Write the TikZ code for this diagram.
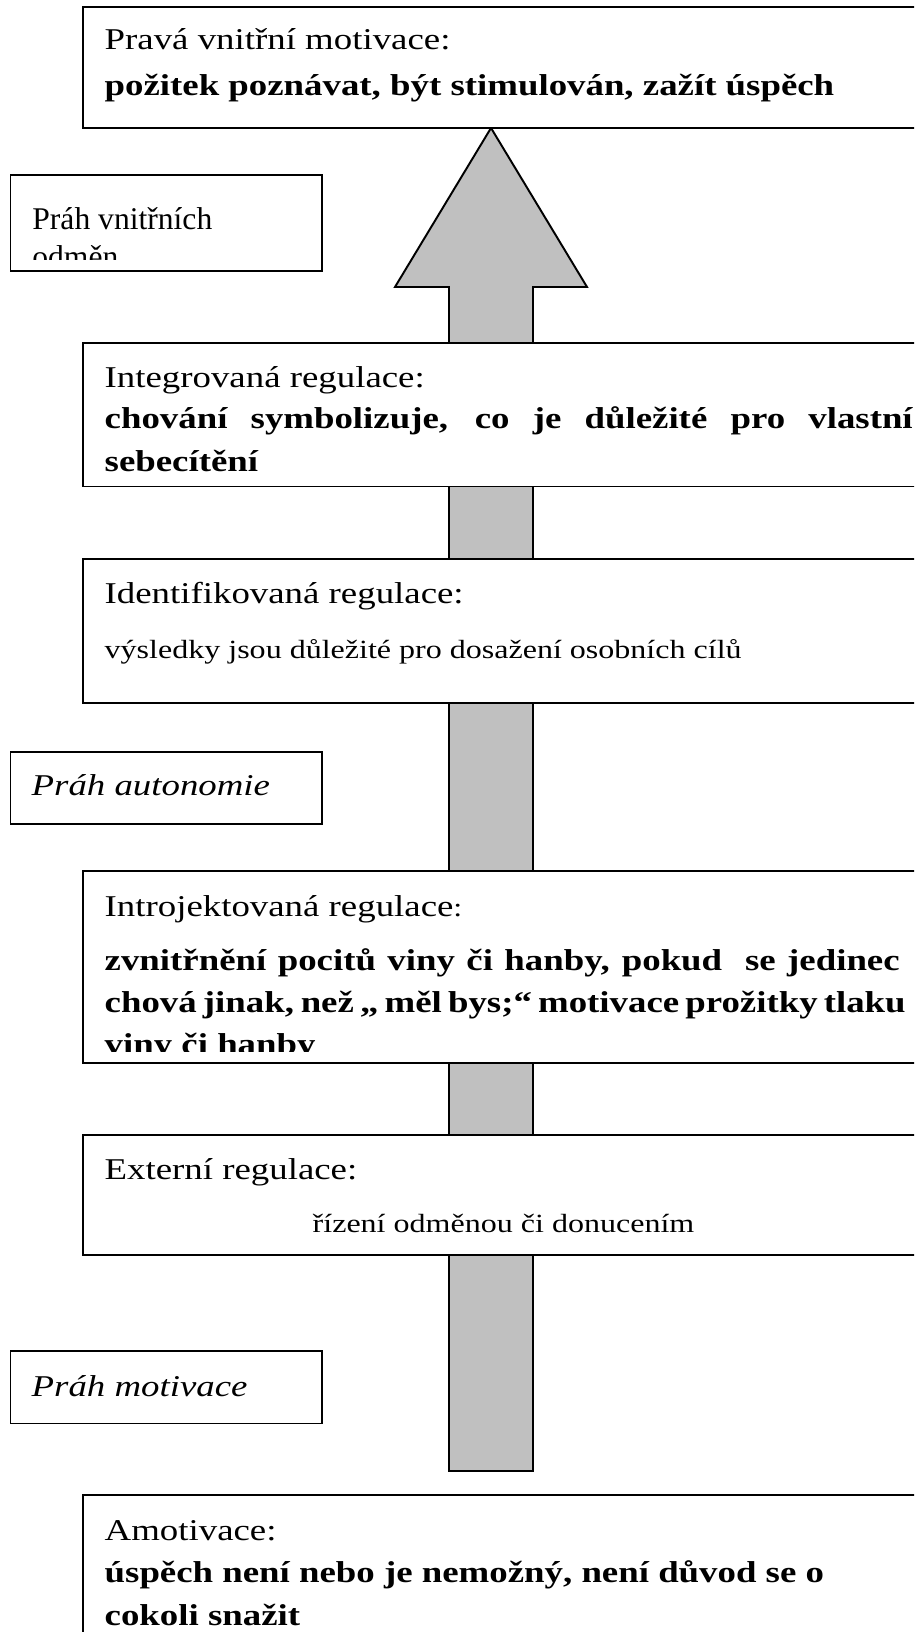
\documentclass[tikz,border=0pt]{standalone}
\usepackage{fontspec}
\setmainfont{Liberation Serif}[FakeStretch=1.22]
\newfontfamily\plainserif{Liberation Serif}
\definecolor{shaftgray}{RGB}{192,192,192}
\newcommand{\hdfont}{\fontsize{8.59pt}{10pt}\selectfont}
\newcommand{\smfont}{\fontsize{7.47pt}{9pt}\selectfont}
\newcommand{\boxfont}{\plainserif\fontsize{8.99pt}{10pt}\selectfont}
\tikzset{
    stage/.style={draw, line width=0.55pt, fill=white},
    txt/.style={anchor=base west, inner sep=0pt, font=\hdfont},
    txtb/.style={txt, font=\hdfont\bfseries}
}
\begin{document}
\begin{tikzpicture}
        \useasboundingbox (0, 0) rectangle (9.14, 16.32);
        \clip (0, 0) rectangle (9.14, 16.32);

        % the big arrow behind the boxes
        \draw[line width=0.55pt, fill=shaftgray] (4.49, 1.61) -- (4.49, 13.45) -- (3.95, 13.45)
            -- (4.91, 15.04) -- (5.87, 13.45) -- (5.33, 13.45) -- (5.33, 1.61) -- cycle;

        % stages
        \draw[stage] (0.83, 15.04) rectangle (9.5, 16.25);
        \draw[stage] (0.83, 11.455) rectangle (9.5, 12.886);
        \draw[stage] (0.83, 9.29) rectangle (9.5, 10.73);
        \draw[stage] (0.83, 5.69) rectangle (9.5, 7.61);
        \draw[stage] (0.83, 3.77) rectangle (9.5, 4.97);
        \draw[stage] (0.83, -0.5) rectangle (9.5, 1.37);

        % thresholds
        \draw[stage] (0.105, 13.61) rectangle (3.22, 14.57);
        \draw[stage] (0.105, 8.08) rectangle (3.22, 8.80);
        \draw[stage] (0.105, 2.085) rectangle (3.22, 2.81);

        \node[txt] (prava) at(1.04, 15.82){Pravá vnitřní motivace:};
        \node[txtb] (pravatext) at(1.04, 15.36){požitek poznávat, být stimulován, zažít úspěch};

        \begin{scope}
            \clip (0.105, 13.72) rectangle (3.22, 14.57);
            \node[txt, font=\boxfont] (prah1) at(0.317, 14.02){Práh vnitřních};
            \node[txt, font=\boxfont] (prah1b) at(0.317, 13.64){odměn};
        \end{scope}

        \node[txt] (integ) at(1.04, 12.447){Integrovaná regulace:};
        \node[txtb] (intega) at(1.04, 12.037){\makebox[8.08cm][s]{chování symbolizuje, co je důležité pro vlastní}};
        \node[txtb] (integb) at(1.04, 11.603){sebecítění};

        \node[txt] (ident) at(1.04, 10.287){Identifikovaná regulace:};
        \node[txt, font=\smfont] (identa) at(1.04, 9.737){výsledky jsou důležité pro dosažení osobních cílů};

        \node[txt, font=\hdfont\itshape] (prah2) at(0.31, 8.36){Práh autonomie};

        \node[txt] (intro) at(1.04, 7.15){Introjektovaná regulace{\smfont :}};
        \begin{scope}
            \clip (0.83, 5.80) rectangle (9.5, 7.61);
            \node[txtb] (introa) at(1.04, 6.61){\makebox[7.95cm][s]{zvnitřnění pocitů viny či hanby, pokud\ \ se jedinec}};
            \node[txtb] (introb) at(1.04, 6.19){\makebox[7.95cm][s]{chová jinak, než „ měl bys;“ motivace prožitky tlaku}};
            \node[txtb] (introc) at(1.04, 5.77){viny či hanby};
        \end{scope}

        \node[txt] (ext) at(1.04, 4.525){Externí regulace:};
        \node[txt, font=\smfont] (exta) at(3.12, 3.995){řízení odměnou či donucením};

        \node[txt, font=\hdfont\itshape] (prah3) at(0.31, 2.35){Práh motivace};

        \node[txt] (amot) at(1.04, 0.91){Amotivace:};
        \node[txtb] (amota) at(1.04, 0.49){úspěch není nebo je nemožný, není důvod se o};
        \node[txtb] (amotb) at(1.04, 0.07){cokoli snažit};
    \end{tikzpicture}
\end{document}
